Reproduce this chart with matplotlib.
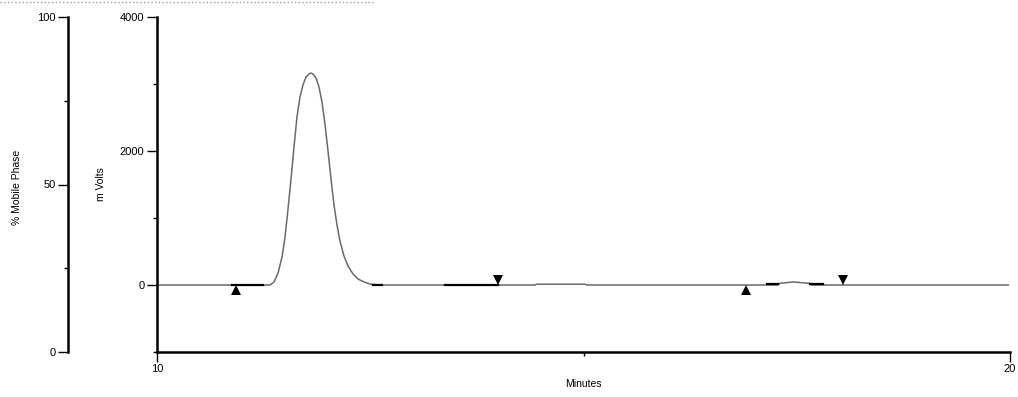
import matplotlib
matplotlib.use("Agg")
import matplotlib.pyplot as plt
from matplotlib.lines import Line2D

plt.rcParams['font.family'] = ['Liberation Sans', 'DejaVu Sans']

# detector trace (minutes, mVolts)
trace_t = [10.0, 11.325, 11.372, 11.419, 11.466, 11.501, 11.536, 11.571, 11.606,
           11.641, 11.676, 11.711, 11.747, 11.782, 11.805, 11.829, 11.864, 11.899,
           11.934, 11.969, 12.005, 12.040, 12.075, 12.110, 12.145, 12.192, 12.239,
           12.298, 12.356, 12.427, 12.497, 12.591,
           14.43, 14.45, 15.02, 15.04, 17.28, 17.30, 17.456, 17.655, 17.67, 19.98]
trace_mv = [0, 0, 45, 179, 418, 716, 1134, 1582, 2060,
            2507, 2806, 2985, 3104, 3149, 3164, 3149, 3090, 2955,
            2731, 2403, 1999, 1582, 1194, 896, 657, 433, 284,
            164, 90, 45, 15, 0,
            0, 12, 12, 0, 0, 25, 45, 25, 0, 0]

# integration baseline pieces (start, end, level)
seg_start = [10.88, 12.53, 13.38, 17.15, 17.655]
seg_end = [11.24, 12.64, 14.00, 17.28, 17.81]
seg_level = [0, 0, 0, 15, 15]

# peak start / end markers
start_t = [10.926, 16.905]
start_mv = [-80, -80]
end_t = [13.998, 18.042]
end_mv = [75, 75]

fig = plt.figure(figsize=(10.18, 3.97), dpi=100)
W, H = 1018.0, 397.0
bottom = 1 - 352 / H
height = (352 - 17) / H

ax = fig.add_axes([157 / W, bottom, (1010 - 157) / W, height])
ax.plot(trace_t, trace_mv, color='#6a6a6a', lw=1.1)
for s, e, lv in zip(seg_start, seg_end, seg_level):
    ax.plot([s, e], [lv, lv], color='black', lw=1.6)
ax.plot(start_t, start_mv, '^', color='black', ms=6.5, markeredgewidth=0)
ax.plot(end_t, end_mv, 'v', color='black', ms=6.5, markeredgewidth=0)

ax.set_xlim(10, 20)
ax.set_ylim(-1000, 4000)
ax.set_xticks([10, 20])
ax.set_xticks([15], minor=True)
ax.set_yticks([0, 2000, 4000])
ax.set_yticks([-1000, 1000, 3000], minor=True)
for sp in ['top', 'right']:
    ax.spines[sp].set_visible(False)
for sp in ['left', 'bottom']:
    ax.spines[sp].set_linewidth(1.8)
ax.tick_params(which='major', length=7, width=1, pad=2, labelsize=8, direction='out')
ax.tick_params(which='minor', length=3, width=1, direction='out')
ax.set_xlabel('Minutes', fontsize=7.5)
ax.xaxis.set_label_coords(0.5, (352 - 379) / 335.0)
ax.set_ylabel('m Volts', fontsize=7.5)
ax.yaxis.set_label_coords((106 - 157) / 853.0, 0.5)

# mobile phase axis
ax2 = fig.add_axes([68 / W, bottom, 0.0005, height])
ax2.set_ylim(0, 100)
ax2.set_xticks([])
ax2.set_yticks([0, 50, 100])
ax2.set_yticks([25, 75], minor=True)
for sp in ['top', 'right', 'bottom']:
    ax2.spines[sp].set_visible(False)
ax2.spines['left'].set_linewidth(1.8)
ax2.patch.set_visible(False)
ax2.tick_params(which='major', length=7, width=1, pad=2, labelsize=8)
ax2.tick_params(which='minor', length=3, width=1)
fig.text(17 / W, 1 - 187 / H, '% Mobile Phase', fontsize=7.5,
         rotation=90, ha='center', va='center')

fig.add_artist(Line2D([0, 375 / W], [1 - 1.5 / H, 1 - 1.5 / H],
                      transform=fig.transFigure, color='#999999', lw=1, ls=':'))

fig.savefig('out.png', dpi=100)
